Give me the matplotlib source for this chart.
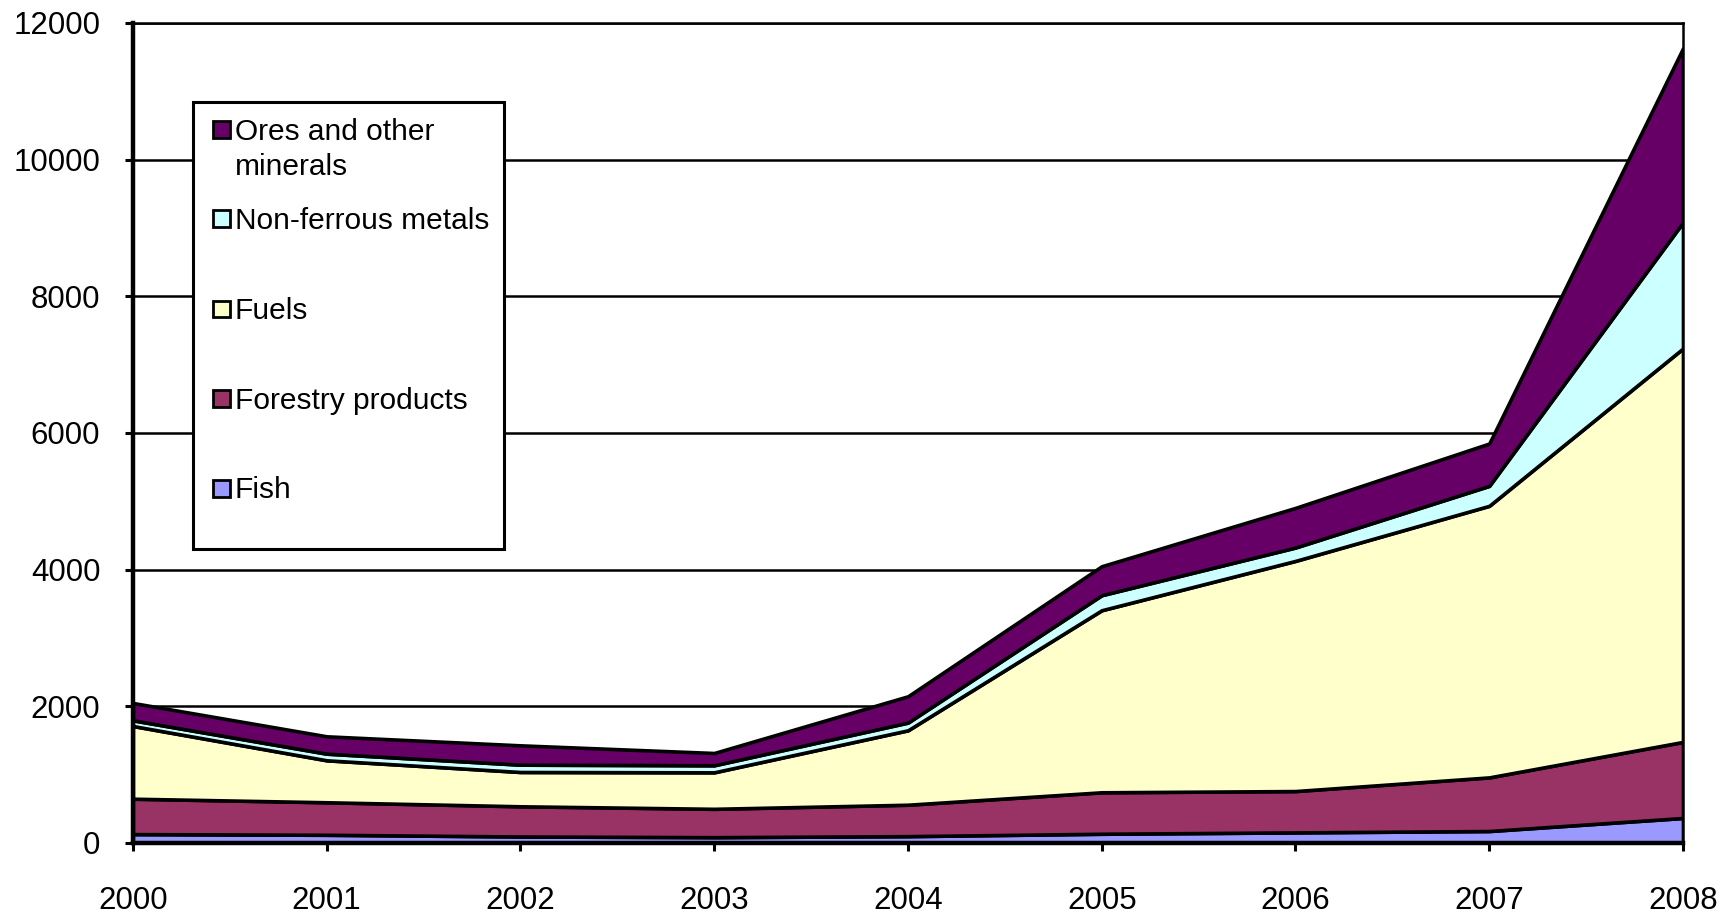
import matplotlib

matplotlib.use("Agg")
import matplotlib.pyplot as plt
from matplotlib.patches import Rectangle

plt.rcParams["font.family"] = ["Liberation Sans", "DejaVu Sans"]

years = [2000, 2001, 2002, 2003, 2004, 2005, 2006, 2007, 2008]
fish = [130, 120, 95, 85, 100, 135, 155, 175, 366]
forestry = [518, 476, 442, 415, 460, 607, 605, 785, 1113]
fuels = [1064, 614, 502, 534, 1089, 2664, 3368, 3974, 5758]
non_ferrous = [83, 97, 107, 103, 113, 220, 196, 292, 1845]
ores = [254, 254, 283, 180, 385, 424, 580, 620, 2547]

series = [fish, forestry, fuels, non_ferrous, ores]
labels = ["Fish", "Forestry products", "Fuels", "Non-ferrous metals",
          "Ores and other\nminerals"]
colors = ["#9999FF", "#993366", "#FFFFCC", "#CCFFFF", "#660066"]

fig = plt.figure(figsize=(17.24, 9.15), dpi=100)
ax = fig.add_axes([0.0771, 0.0787, 0.8991, 0.8962])

ax.stackplot(years, *series, colors=colors, edgecolor="black", linewidth=2.6)

ax.set_xlim(2000, 2008)
ax.set_ylim(0, 12000)
ax.set_xticks(years)
ax.set_yticks(range(0, 12001, 2000))
ax.yaxis.grid(True, color="black", linewidth=1.8)
ax.set_axisbelow(True)

for side in ("left", "bottom"):
    ax.spines[side].set_linewidth(3.2)
for side in ("top", "right"):
    ax.spines[side].set_linewidth(1.8)

ax.tick_params(axis="both", direction="out", length=6, width=2.2,
               labelsize=22.5, colors="black")
ax.tick_params(axis="y", pad=17.5)
ax.tick_params(axis="x", pad=25)

# legend box, top entry first
ax.add_patch(Rectangle((0.0385, 0.3585), 0.2009, 0.5455, transform=ax.transAxes,
                       facecolor="white", edgecolor="black", linewidth=2.2,
                       zorder=5))
row_y = [0.8695, 0.761, 0.6512, 0.5415, 0.4326]
for y, lab, col in zip(row_y, labels[::-1], colors[::-1]):
    ax.add_patch(Rectangle((0.0514, y - 0.01035), 0.011, 0.0207,
                           transform=ax.transAxes, facecolor=col,
                           edgecolor="black", linewidth=2, zorder=6))
    ax.text(0.0658, y + 0.0145, lab, transform=ax.transAxes, fontsize=21.5,
            va="top", ha="left", linespacing=1.3, zorder=6)

fig.savefig("out.png", dpi=100)
plt.close(fig)
